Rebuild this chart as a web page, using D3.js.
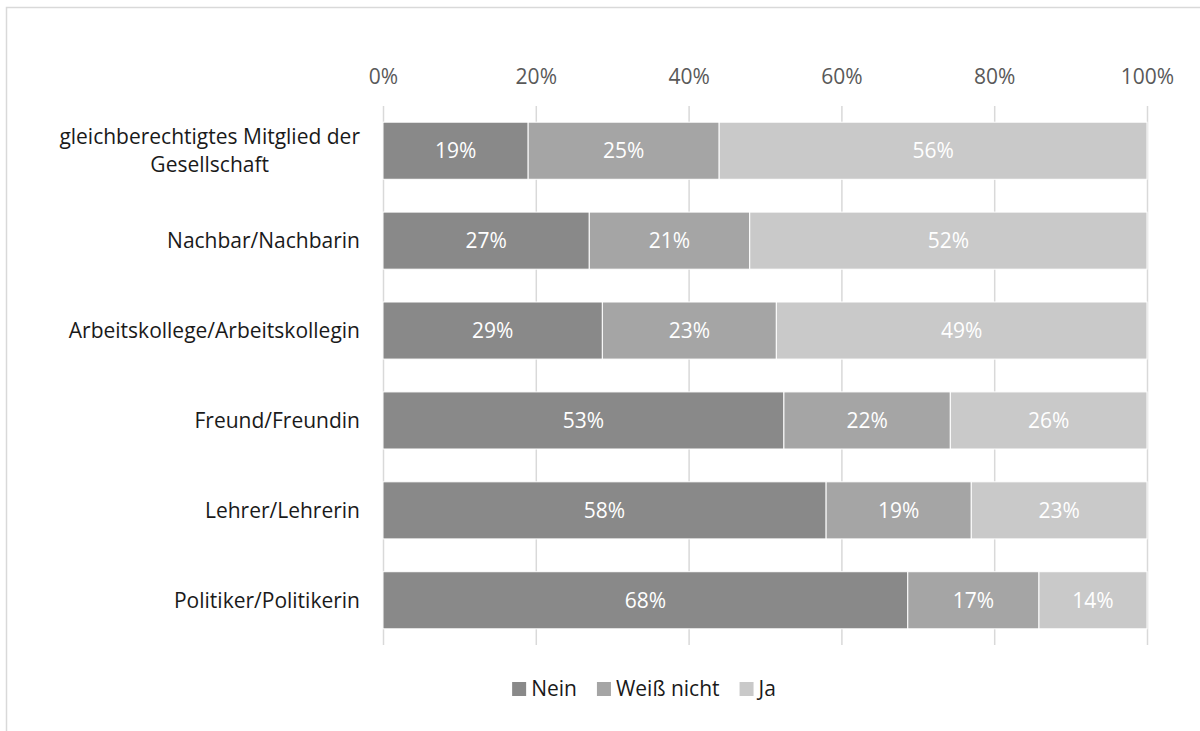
<!DOCTYPE html>
<html>
<head>
<meta charset="utf-8">
<script src="https://cdn.jsdelivr.net/npm/d3@7/dist/d3.min.js"></script>
<style>
  html, body { margin: 0; padding: 0; background: #fff; }
  svg { display: block; }
  text { font-family: "Open Sans", Lato, sans-serif; }
</style>
</head>
<body>
<svg id="chart" width="1200" height="731"></svg>
<script>
// Answer categories (one row per role)
const categories = [
  ["gleichberechtigtes Mitglied der", "Gesellschaft"],
  ["Nachbar/Nachbarin"],
  ["Arbeitskollege/Arbeitskollegin"],
  ["Freund/Freundin"],
  ["Lehrer/Lehrerin"],
  ["Politiker/Politikerin"]
];
const seriesNames = ["Nein", "Weiß nicht", "Ja"];
const nein       = [19, 27, 29, 53, 58, 68];
const weissNicht = [25, 21, 23, 22, 19, 17];
const ja         = [56, 52, 49, 26, 23, 14];
const tickValues = [0, 20, 40, 60, 80, 100];
const colors = ["#898989", "#a5a5a5", "#c9c9c9"];
const FS = 21;

const svg = d3.select("#chart");

// outer frame
svg.append("path")
  .attr("d", "M6.5,731 L6.5,7.5 L1200,7.5")
  .attr("fill", "none").attr("stroke", "#d9d9d9").attr("stroke-width", 1.5);

const x = d3.scaleLinear().domain([0, 100]).range([383, 1147]);
const y = d3.scaleBand().domain(d3.range(categories.length)).range([106, 645]).paddingInner(0.365).paddingOuter(0.18);

// vertical gridlines
svg.append("g").selectAll("line").data(tickValues).join("line")
  .attr("x1", d => x(d) + 0.5).attr("x2", d => x(d) + 0.5)
  .attr("y1", 106).attr("y2", 645)
  .attr("stroke", "#d9d9d9").attr("stroke-width", 1.5);

// top axis labels
const axis = d3.axisTop(x).tickValues(tickValues).tickFormat(d => d + "%").tickSize(0).tickPadding(0);
const ax = svg.append("g").attr("transform", "translate(0,84)").call(axis);
ax.select(".domain").remove();
ax.selectAll("text").attr("font-size", FS).attr("fill", "#595959")
  .style("font-family", "'Open Sans', Lato, sans-serif");

// stacked rows, normalised to 100 %
const rows = categories.map((c, i) => {
  const vals = [nein[i], weissNicht[i], ja[i]];
  const total = d3.sum(vals);
  let acc = 0;
  return vals.map((v, k) => {
    const s = acc / total * 100; acc += v;
    return { row: i, k, v, x0: s, x1: acc / total * 100 };
  });
});

const gBars = svg.append("g");
rows.forEach(segs => {
  gBars.selectAll(null).data(segs).join("rect")
    .attr("x", d => x(d.x0)).attr("width", d => x(d.x1) - x(d.x0))
    .attr("y", d => y(d.row)).attr("height", y.bandwidth())
    .attr("fill", d => colors[d.k])
    .attr("stroke", "#ffffff").attr("stroke-width", 1);
  gBars.selectAll(null).data(segs).join("text")
    .attr("x", d => (x(d.x0) + x(d.x1)) / 2)
    .attr("y", d => y(d.row) + y.bandwidth() / 2)
    .attr("dy", "0.35em").attr("text-anchor", "middle")
    .attr("font-size", FS).attr("fill", "#ffffff")
    .text(d => d.v + "%");
});

// category labels, right edge at x = 360; wrapped labels are centred as a block
const gCat = svg.append("g");
categories.forEach((lines, i) => {
  const cy = y(i) + y.bandwidth() / 2;
  const t = gCat.append("text").attr("font-size", FS).attr("fill", "#1a1a1a");
  const spans = lines.map((ln, j) => t.append("tspan")
    .attr("y", cy + (j - (lines.length - 1) / 2) * 28)
    .attr("dy", "0.35em").text(ln));
  if (lines.length === 1) {
    t.attr("text-anchor", "end"); spans[0].attr("x", 360);
  } else {
    const w = d3.max(spans, s => s.node().getComputedTextLength());
    spans.forEach(s => s.attr("x", 360 - w / 2).attr("text-anchor", "middle"));
  }
});

// legend, centred below the plot
const legend = svg.append("g");
let lx = 0;
seriesNames.forEach((name, k) => {
  legend.append("rect").attr("x", lx).attr("y", 682).attr("width", 14).attr("height", 14).attr("fill", colors[k]);
  const t = legend.append("text").attr("x", lx + 19).attr("y", 689).attr("dy", "0.35em")
    .attr("font-size", FS).attr("fill", "#1a1a1a").text(name);
  lx += 19 + t.node().getComputedTextLength() + (k < seriesNames.length - 1 ? 20 : 0);
});
legend.attr("transform", `translate(${644 - lx / 2},0)`);
</script>
</body>
</html>
